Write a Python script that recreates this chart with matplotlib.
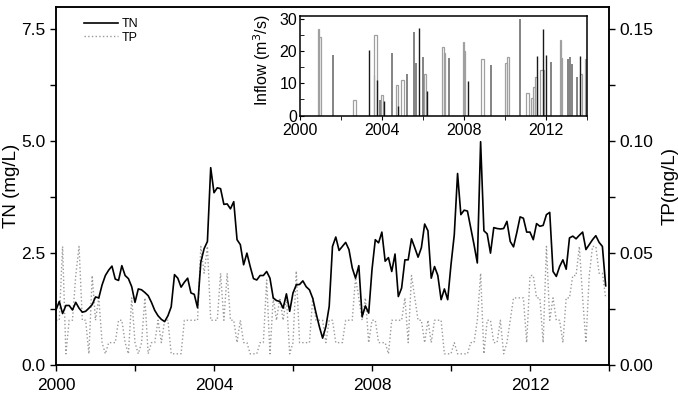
import matplotlib
matplotlib.use('Agg')
import matplotlib.pyplot as plt
from matplotlib.ticker import MultipleLocator
import numpy as np

plt.rcParams['font.family'] = ['Liberation Sans', 'DejaVu Sans']

# ── Monthly TN / TP, Jan 2000 – Dec 2013 ──
START_YEAR = 2000
tn = [1.23, 1.42, 1.15, 1.33, 1.33, 1.23, 1.40, 1.27, 1.18, 1.20, 1.27, 1.35,
      1.52, 1.50, 1.79, 2.00, 2.12, 2.21, 1.92, 1.89, 2.22, 2.00, 1.93, 1.75,
      1.40, 1.70, 1.68, 1.62, 1.55, 1.40, 1.22, 1.10, 1.02, 0.97, 1.10, 1.30,
      2.02, 1.94, 1.74, 1.85, 1.94, 1.61, 1.58, 1.28, 2.30, 2.60, 2.76, 4.41,
      3.85, 3.96, 3.94, 3.59, 3.60, 3.49, 3.65, 2.80, 2.69, 2.24, 2.50, 2.20,
      1.93, 1.90, 2.00, 2.00, 2.09, 1.94, 1.50, 1.44, 1.42, 1.27, 1.59, 1.20,
      1.61, 1.79, 1.80, 1.88, 1.75, 1.68, 1.49, 1.16, 0.86, 0.60, 0.86, 1.31,
      2.65, 2.86, 2.56, 2.65, 2.74, 2.58, 2.17, 1.94, 2.22, 1.08, 1.32, 1.16,
      2.13, 2.80, 2.73, 2.97, 2.32, 2.40, 2.09, 2.48, 1.53, 1.72, 2.35, 2.35,
      2.82, 2.62, 2.41, 2.62, 3.15, 3.00, 1.94, 2.20, 2.00, 1.46, 1.70, 1.46,
      2.24, 2.91, 4.28, 3.36, 3.46, 3.44, 3.07, 2.69, 2.28, 4.99, 3.00, 2.93,
      2.50, 3.07, 3.05, 3.04, 3.05, 3.21, 2.76, 2.64, 2.96, 3.31, 3.28, 2.97,
      2.97, 2.80, 3.16, 3.10, 3.12, 3.36, 3.41, 2.09, 1.98, 2.20, 2.35, 2.14,
      2.84, 2.88, 2.82, 2.90, 2.97, 2.58, 2.69, 2.80, 2.89, 2.74, 2.65, 1.77]
tp = [0.020, 0.020, 0.053, 0.005, 0.020, 0.020, 0.040, 0.053, 0.020, 0.020, 0.005, 0.040,
      0.020, 0.030, 0.010, 0.005, 0.010, 0.010, 0.010, 0.020, 0.020, 0.010, 0.005, 0.030,
      0.010, 0.005, 0.010, 0.030, 0.005, 0.010, 0.010, 0.020, 0.010, 0.020, 0.020, 0.005,
      0.005, 0.005, 0.005, 0.020, 0.020, 0.020, 0.020, 0.020, 0.053, 0.041, 0.053, 0.020,
      0.020, 0.020, 0.041, 0.020, 0.041, 0.020, 0.020, 0.010, 0.020, 0.010, 0.010, 0.005,
      0.005, 0.005, 0.010, 0.010, 0.038, 0.005, 0.030, 0.020, 0.030, 0.020, 0.030, 0.005,
      0.010, 0.042, 0.010, 0.010, 0.010, 0.010, 0.030, 0.020, 0.020, 0.020, 0.010, 0.020,
      0.020, 0.010, 0.010, 0.010, 0.020, 0.020, 0.020, 0.039, 0.030, 0.020, 0.030, 0.010,
      0.020, 0.020, 0.010, 0.010, 0.010, 0.005, 0.020, 0.020, 0.020, 0.020, 0.030, 0.010,
      0.040, 0.030, 0.020, 0.020, 0.010, 0.020, 0.010, 0.020, 0.020, 0.020, 0.005, 0.005,
      0.005, 0.010, 0.005, 0.005, 0.005, 0.005, 0.010, 0.010, 0.020, 0.041, 0.005, 0.020,
      0.020, 0.010, 0.010, 0.020, 0.005, 0.010, 0.020, 0.030, 0.030, 0.030, 0.030, 0.010,
      0.040, 0.040, 0.030, 0.030, 0.010, 0.053, 0.020, 0.030, 0.020, 0.020, 0.010, 0.030,
      0.030, 0.040, 0.040, 0.053, 0.030, 0.010, 0.040, 0.053, 0.053, 0.041, 0.041, 0.030]

# ── Inflow events (m3/s) ──
# longer pulses: start / end (decimal year) and level
pulse_start = [2000.87, 2000.95, 2002.58, 2003.59, 2003.62, 2003.93, 2004.67, 2004.91,
               2006.06, 2006.92, 2007.00, 2007.93, 2008.00, 2008.83, 2009.99, 2010.08,
               2011.04, 2011.27, 2011.37, 2011.46, 2011.72, 2012.69, 2012.73, 2013.67,
               2013.88, 2013.95]
pulse_end   = [2000.95, 2001.03, 2002.71, 2003.62, 2003.755, 2004.05, 2004.78, 2005.06,
               2006.14, 2007.00, 2007.07, 2008.00, 2008.07, 2008.98, 2010.08, 2010.20,
               2011.18, 2011.37, 2011.46, 2011.56, 2011.89, 2012.73, 2012.78, 2013.76,
               2013.95, 2014.00]
pulse_level = [27.0, 24.6, 4.7, 12.6, 25.0, 6.3, 9.4, 11.0,
               13.0, 21.5, 19.4, 22.8, 20.0, 17.6, 16.5, 18.3,
               7.1, 5.5, 8.9, 12.0, 14.1, 23.5, 18.0, 13.0,
               17.6, 15.2]
# short spikes
spike_black_t = [2003.36, 2003.77, 2004.08, 2004.78, 2005.78, 2006.19, 2008.21,
                 2011.54, 2011.84, 2012.02, 2013.65]
spike_black_v = [20.4, 11.0, 4.4, 3.1, 27.2, 7.5, 10.7, 18.6, 27.0, 18.8, 18.6]
spike_grey_t  = [2001.60, 2003.89, 2004.50, 2005.22, 2005.55, 2005.68, 2006.02,
                 2007.28, 2009.31, 2010.73, 2012.26, 2013.06, 2013.16, 2013.27,
                 2013.49]
spike_grey_v  = [18.8, 4.7, 19.4, 12.8, 26.0, 16.5, 18.3,
                 18.0, 15.7, 30.2, 16.8, 17.6, 18.3, 16.2, 12.0]

years = START_YEAR + np.arange(len(tn)) / 12.0

fig = plt.figure(figsize=(6.78, 3.94), dpi=100)
ax = fig.add_axes([0.0826, 0.0736, 0.8156, 0.9086])
ax2 = ax.twinx()

ax.plot(years, tn, color='black', lw=1.2, label='TN', zorder=3)
ax.plot(years, np.array(tp) * 50, color='#9a9a9a', lw=1.0, ls=':', label='TP', zorder=2)

ax.set_xlim(2000, 2014)
ax.set_ylim(0, 8)
ax2.set_ylim(0, 0.16)
ax.xaxis.set_major_locator(MultipleLocator(4))
ax.xaxis.set_minor_locator(MultipleLocator(2))
ax.yaxis.set_major_locator(MultipleLocator(2.5))
ax.yaxis.set_minor_locator(MultipleLocator(1.25))
ax2.yaxis.set_major_locator(MultipleLocator(0.05))
ax2.yaxis.set_minor_locator(MultipleLocator(0.025))
ax.xaxis.set_major_formatter(plt.FuncFormatter(lambda v, p: f'{int(v)}'))
ax.yaxis.set_major_formatter(plt.FuncFormatter(lambda v, p: f'{v:.1f}'))
ax2.yaxis.set_major_formatter(plt.FuncFormatter(lambda v, p: f'{v:.2f}'))

for a in (ax, ax2):
    a.tick_params(which='major', direction='out', length=4, width=1, labelsize=12.5)
    a.tick_params(which='minor', direction='out', length=4, width=1)
    for s in a.spines.values():
        s.set_linewidth(1.1)
ax.tick_params(axis='x', pad=5)
ax.set_ylabel('TN (mg/L)', fontsize=13.5, labelpad=1)
ax2.set_ylabel('TP(mg/L)', fontsize=13.5, labelpad=6)

ax.legend(loc='upper left', bbox_to_anchor=(0.03, 1.0), frameon=False, fontsize=9,
          handlelength=2.7, handletextpad=0.3, labelspacing=0.1)

# ── Inset: inflow ──
ins = fig.add_axes([0.4425, 0.7068, 0.4233, 0.2525])
widths = np.array(pulse_end) - np.array(pulse_start)
ins.bar(pulse_start, pulse_level, width=widths, align='edge', fill=False,
        edgecolor='#a0a0a0', lw=0.9)
ins.vlines(spike_grey_t, 0, spike_grey_v, color='#6e6e6e', lw=1.2)
ins.vlines(spike_black_t, 0, spike_black_v, color='#1a1a1a', lw=1.0)
ins.set_xlim(2000, 2014)
ins.set_ylim(0, 31)
ins.xaxis.set_major_locator(MultipleLocator(4))
ins.xaxis.set_minor_locator(MultipleLocator(2))
ins.yaxis.set_major_locator(MultipleLocator(10))
ins.yaxis.set_minor_locator(MultipleLocator(5))
ins.xaxis.set_major_formatter(plt.FuncFormatter(lambda v, p: f'{int(v)}'))
ins.tick_params(axis='x', which='both', direction='out', length=3, labelsize=11.5, pad=2.5)
ins.tick_params(axis='y', which='both', direction='in', length=3, labelsize=11.5, pad=2)
for s in ins.spines.values():
    s.set_linewidth(1.1)
ins.set_ylabel('Inflow (m$^3$/s)', fontsize=11.5, labelpad=1)
ins.yaxis.set_label_coords(-0.095, 0.56)

fig.savefig('out.png', dpi=100)
